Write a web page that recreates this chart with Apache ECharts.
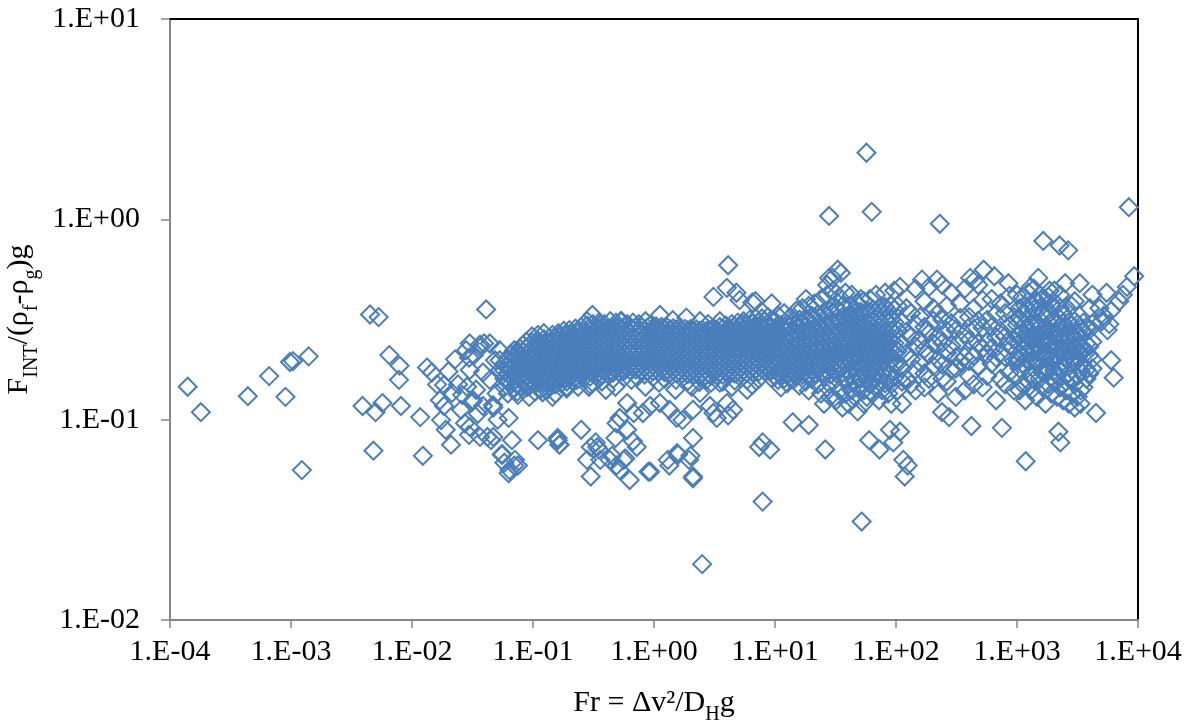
<!DOCTYPE html>
<html>
<head>
<meta charset="utf-8">
<script src="https://cdn.jsdelivr.net/npm/echarts@6/dist/echarts.min.js"></script>
<style>
html, body { margin: 0; padding: 0; background: #fff; }
#chart { width: 1195px; height: 726px; }
</style>
</head>
<body>
<div id="chart"></div>
<script>
// tick values (decades)
var frTicks = [1e-4, 1e-3, 1e-2, 1e-1, 1, 10, 100, 1000, 10000];
var forceTicks = [0.01, 0.1, 1, 10];

// scattered points left of the band [Fr, F/(..)g]
var sparseLeft = [
    [1.4e-4, 0.146], [1.8e-4, 0.109], [4.4e-4, 0.131], [6.6e-4, 0.165], [9.0e-4, 0.130],
    [9.8e-4, 0.194], [1.04e-3, 0.196], [1.4e-3, 0.207], [1.23e-3, 0.056], [3.9e-3, 0.117],
    [4.5e-3, 0.335], [5.3e-3, 0.325], [4.8e-3, 0.070], [5.0e-3, 0.109], [5.7e-3, 0.121],
    [6.5e-3, 0.210], [7.9e-3, 0.186], [7.8e-3, 0.158], [8.1e-3, 0.117], [0.0117, 0.103],
    [0.0123, 0.066], [0.0133, 0.182], [0.0146, 0.172], [0.0161, 0.150], [0.017, 0.125],
    [0.0184, 0.117], [0.020, 0.174], [0.0174, 0.0995], [0.019, 0.089], [0.021, 0.075],
    [0.0227, 0.200], [0.024, 0.150], [0.0254, 0.112], [0.0274, 0.096], [0.0296, 0.084],
    [0.0313, 0.123], [0.0338, 0.141], [0.0365, 0.237], [0.0394, 0.240], [0.041, 0.355],
    [0.042, 0.082], [0.045, 0.079], [0.0467, 0.118], [0.050, 0.135], [0.0386, 0.172],
    [0.044, 0.158], [0.0485, 0.198], [0.0534, 0.177], [0.035, 0.107], [0.030, 0.177],
    [0.026, 0.133], [0.0214, 0.136], [0.0184, 0.149], [0.028, 0.222], [0.0325, 0.210],
    [0.051, 0.100], [0.0285, 0.146], [0.032, 0.125], [0.0386, 0.117], [0.047, 0.115],
    [0.030, 0.092], [0.0365, 0.082], [0.047, 0.082], [0.0296, 0.204], [0.0365, 0.229],
    [0.053, 0.198], [0.030, 0.240], [0.044, 0.240], [0.053, 0.222]
];

// dense band, Fr < 10: [Fr, [F values]]
var bandLow = [
    [0.058, [0.16, 0.176, 0.19, 0.145]],
    [0.062, [0.17, 0.186, 0.155, 0.2, 0.135]],
    [0.066, [0.165, 0.18, 0.196, 0.212, 0.15]],
    [0.07, [0.172, 0.158, 0.188, 0.205, 0.143, 0.222]],
    [0.074, [0.168, 0.181, 0.196, 0.214, 0.152, 0.138]],
    [0.078, [0.175, 0.162, 0.19, 0.208, 0.226, 0.147]],
    [0.083, [0.17, 0.184, 0.2, 0.218, 0.157, 0.236, 0.142]],
    [0.088, [0.166, 0.178, 0.193, 0.21, 0.228, 0.152, 0.245]],
    [0.093, [0.173, 0.186, 0.2, 0.216, 0.234, 0.16, 0.147, 0.13]],
    [0.098, [0.168, 0.18, 0.195, 0.21, 0.225, 0.242, 0.155, 0.26]],
    [0.104, [0.175, 0.19, 0.204, 0.22, 0.236, 0.163, 0.15, 0.138]],
    [0.11, [0.17, 0.183, 0.198, 0.213, 0.23, 0.248, 0.158, 0.265]],
    [0.116, [0.177, 0.19, 0.205, 0.222, 0.24, 0.165, 0.153, 0.142]],
    [0.123, [0.172, 0.186, 0.2, 0.216, 0.233, 0.252, 0.16, 0.27]],
    [0.13, [0.178, 0.193, 0.208, 0.225, 0.243, 0.166, 0.155, 0.14]],
    [0.137, [0.174, 0.188, 0.202, 0.218, 0.236, 0.256, 0.162, 0.148]],
    [0.145, [0.18, 0.195, 0.21, 0.227, 0.245, 0.168, 0.265, 0.156]],
    [0.153, [0.176, 0.19, 0.205, 0.221, 0.239, 0.258, 0.164, 0.15, 0.135]],
    [0.162, [0.182, 0.197, 0.212, 0.23, 0.248, 0.17, 0.158, 0.27]],
    [0.171, [0.178, 0.192, 0.207, 0.224, 0.242, 0.262, 0.166, 0.152]],
    [0.18, [0.184, 0.199, 0.215, 0.232, 0.25, 0.172, 0.16, 0.278]],
    [0.19, [0.18, 0.194, 0.21, 0.226, 0.244, 0.265, 0.168, 0.155, 0.143]],
    [0.2, [0.186, 0.2, 0.217, 0.235, 0.254, 0.174, 0.162, 0.28]],
    [0.212, [0.182, 0.196, 0.212, 0.229, 0.247, 0.268, 0.17, 0.157]],
    [0.224, [0.188, 0.203, 0.22, 0.238, 0.257, 0.176, 0.164, 0.285]],
    [0.236, [0.184, 0.198, 0.214, 0.231, 0.25, 0.272, 0.172, 0.16, 0.146]],
    [0.25, [0.19, 0.205, 0.222, 0.24, 0.26, 0.178, 0.166, 0.29]],
    [0.264, [0.186, 0.2, 0.216, 0.234, 0.253, 0.275, 0.174, 0.162]],
    [0.28, [0.192, 0.207, 0.224, 0.242, 0.262, 0.18, 0.168, 0.295]],
    [0.296, [0.188, 0.202, 0.218, 0.236, 0.256, 0.278, 0.176, 0.164, 0.15]],
    [0.313, [0.194, 0.209, 0.226, 0.245, 0.265, 0.182, 0.17, 0.3]],
    [0.33, [0.19, 0.204, 0.22, 0.238, 0.258, 0.28, 0.178, 0.166]],
    [0.35, [0.196, 0.211, 0.228, 0.247, 0.268, 0.184, 0.172, 0.305]],
    [0.37, [0.192, 0.206, 0.222, 0.24, 0.26, 0.283, 0.18, 0.168, 0.155]],
    [0.39, [0.198, 0.213, 0.23, 0.249, 0.27, 0.186, 0.174, 0.3]],
    [0.41, [0.194, 0.208, 0.224, 0.242, 0.262, 0.285, 0.182, 0.17]],
    [0.435, [0.2, 0.215, 0.232, 0.251, 0.272, 0.188, 0.176, 0.31]],
    [0.46, [0.196, 0.21, 0.226, 0.244, 0.264, 0.287, 0.184, 0.172, 0.16]],
    [0.485, [0.202, 0.217, 0.234, 0.253, 0.274, 0.19, 0.178, 0.305]],
    [0.51, [0.198, 0.212, 0.228, 0.246, 0.266, 0.288, 0.186, 0.174]],
    [0.54, [0.204, 0.219, 0.236, 0.255, 0.276, 0.192, 0.18, 0.31]],
    [0.57, [0.2, 0.214, 0.23, 0.248, 0.268, 0.29, 0.188, 0.176, 0.163]],
    [0.6, [0.205, 0.22, 0.237, 0.256, 0.277, 0.193, 0.181, 0.3]],
    [0.635, [0.2, 0.215, 0.231, 0.249, 0.269, 0.29, 0.189, 0.177]],
    [0.67, [0.206, 0.221, 0.238, 0.257, 0.278, 0.194, 0.182, 0.305]],
    [0.71, [0.201, 0.216, 0.232, 0.25, 0.27, 0.29, 0.19, 0.178, 0.165]],
    [0.75, [0.206, 0.221, 0.238, 0.257, 0.278, 0.194, 0.182, 0.3]],
    [0.79, [0.2, 0.215, 0.231, 0.249, 0.268, 0.289, 0.189, 0.177]],
    [0.835, [0.205, 0.22, 0.236, 0.255, 0.275, 0.193, 0.181, 0.168]],
    [0.88, [0.2, 0.214, 0.23, 0.248, 0.267, 0.288, 0.188, 0.176]],
    [0.93, [0.204, 0.218, 0.234, 0.252, 0.272, 0.192, 0.18, 0.295]],
    [0.98, [0.199, 0.213, 0.229, 0.246, 0.265, 0.286, 0.187, 0.175, 0.163]],
    [1.04, [0.203, 0.217, 0.233, 0.25, 0.27, 0.191, 0.179, 0.292]],
    [1.1, [0.198, 0.212, 0.228, 0.245, 0.264, 0.285, 0.186, 0.174]],
    [1.16, [0.202, 0.216, 0.232, 0.249, 0.268, 0.19, 0.178, 0.29]],
    [1.22, [0.197, 0.211, 0.227, 0.244, 0.263, 0.284, 0.185, 0.173, 0.16]],
    [1.29, [0.201, 0.215, 0.231, 0.248, 0.267, 0.189, 0.177, 0.288]],
    [1.36, [0.196, 0.21, 0.226, 0.243, 0.262, 0.282, 0.184, 0.172]],
    [1.44, [0.2, 0.214, 0.23, 0.247, 0.266, 0.188, 0.176, 0.286]],
    [1.52, [0.195, 0.209, 0.225, 0.242, 0.261, 0.281, 0.183, 0.171, 0.158]],
    [1.6, [0.199, 0.213, 0.229, 0.246, 0.265, 0.187, 0.175, 0.285]],
    [1.7, [0.194, 0.208, 0.224, 0.241, 0.26, 0.28, 0.182, 0.17]],
    [1.8, [0.198, 0.212, 0.228, 0.245, 0.264, 0.186, 0.174, 0.284]],
    [1.9, [0.193, 0.207, 0.223, 0.24, 0.259, 0.279, 0.181, 0.169, 0.156]],
    [2.0, [0.197, 0.211, 0.227, 0.244, 0.263, 0.185, 0.173, 0.283]],
    [2.12, [0.192, 0.206, 0.222, 0.239, 0.258, 0.278, 0.18, 0.168]],
    [2.24, [0.196, 0.21, 0.226, 0.243, 0.262, 0.184, 0.172, 0.282]],
    [2.37, [0.191, 0.205, 0.221, 0.238, 0.257, 0.277, 0.179, 0.167, 0.154]],
    [2.5, [0.195, 0.209, 0.225, 0.242, 0.261, 0.183, 0.171, 0.28]],
    [2.65, [0.19, 0.204, 0.22, 0.237, 0.256, 0.276, 0.178, 0.166]],
    [2.8, [0.194, 0.208, 0.224, 0.241, 0.26, 0.182, 0.17, 0.28]],
    [2.96, [0.19, 0.204, 0.22, 0.237, 0.256, 0.277, 0.178, 0.166, 0.153]],
    [3.13, [0.195, 0.209, 0.225, 0.243, 0.263, 0.183, 0.171, 0.285]],
    [3.3, [0.191, 0.205, 0.221, 0.239, 0.259, 0.28, 0.179, 0.167]],
    [3.5, [0.196, 0.21, 0.226, 0.245, 0.266, 0.184, 0.172, 0.29]],
    [3.7, [0.192, 0.206, 0.222, 0.241, 0.262, 0.284, 0.18, 0.168, 0.155]],
    [3.92, [0.197, 0.211, 0.228, 0.247, 0.268, 0.185, 0.173, 0.295]],
    [4.15, [0.193, 0.207, 0.224, 0.243, 0.264, 0.288, 0.181, 0.169]],
    [4.4, [0.198, 0.213, 0.23, 0.25, 0.272, 0.186, 0.174, 0.3]],
    [4.65, [0.194, 0.208, 0.226, 0.246, 0.268, 0.292, 0.182, 0.17, 0.157]],
    [4.92, [0.2, 0.215, 0.233, 0.253, 0.276, 0.187, 0.175, 0.305]],
    [5.2, [0.195, 0.21, 0.228, 0.248, 0.27, 0.295, 0.183, 0.171]],
    [5.5, [0.201, 0.217, 0.236, 0.257, 0.28, 0.188, 0.176, 0.31]],
    [5.85, [0.196, 0.212, 0.23, 0.25, 0.273, 0.298, 0.184, 0.172, 0.158]],
    [6.2, [0.202, 0.219, 0.238, 0.26, 0.284, 0.19, 0.177, 0.315]],
    [6.55, [0.197, 0.214, 0.233, 0.254, 0.277, 0.302, 0.185, 0.173]],
    [6.95, [0.203, 0.22, 0.24, 0.262, 0.286, 0.19, 0.178, 0.32]],
    [7.35, [0.198, 0.215, 0.235, 0.256, 0.28, 0.306, 0.186, 0.174, 0.16]],
    [7.8, [0.204, 0.222, 0.242, 0.264, 0.289, 0.191, 0.179, 0.32]],
    [8.25, [0.199, 0.217, 0.237, 0.259, 0.283, 0.31, 0.187, 0.175]],
    [8.75, [0.205, 0.223, 0.244, 0.267, 0.292, 0.192, 0.18, 0.325]],
    [9.3, [0.2, 0.218, 0.239, 0.262, 0.287, 0.315, 0.188, 0.176, 0.162]]
];

// wider band, Fr >= 10
var bandHigh = [
    [10.0, [0.19, 0.205, 0.222, 0.24, 0.26, 0.285, 0.178, 0.165, 0.31]],
    [10.6, [0.185, 0.2, 0.216, 0.234, 0.255, 0.28, 0.172, 0.158, 0.33]],
    [11.2, [0.192, 0.208, 0.226, 0.246, 0.27, 0.296, 0.18, 0.168, 0.145]],
    [11.9, [0.187, 0.202, 0.219, 0.238, 0.26, 0.288, 0.174, 0.16, 0.34]],
    [12.6, [0.194, 0.21, 0.229, 0.25, 0.275, 0.302, 0.182, 0.17, 0.152]],
    [13.4, [0.189, 0.204, 0.222, 0.242, 0.265, 0.292, 0.176, 0.163, 0.325]],
    [14.2, [0.196, 0.213, 0.232, 0.254, 0.28, 0.31, 0.184, 0.172, 0.158]],
    [15.0, [0.19, 0.206, 0.225, 0.246, 0.27, 0.298, 0.178, 0.165, 0.35]],
    [15.9, [0.198, 0.215, 0.235, 0.258, 0.285, 0.316, 0.186, 0.174, 0.148]],
    [16.9, [0.192, 0.208, 0.227, 0.249, 0.274, 0.303, 0.18, 0.167, 0.36]],
    [17.9, [0.2, 0.218, 0.238, 0.262, 0.29, 0.322, 0.188, 0.176, 0.155]],
    [19.0, [0.194, 0.21, 0.23, 0.253, 0.279, 0.31, 0.182, 0.169, 0.14, 0.37]],
    [20.1, [0.202, 0.22, 0.241, 0.266, 0.295, 0.33, 0.19, 0.178, 0.16]],
    [21.3, [0.196, 0.213, 0.234, 0.258, 0.286, 0.318, 0.184, 0.17, 0.38]],
    [22.6, [0.204, 0.223, 0.245, 0.27, 0.3, 0.336, 0.192, 0.18, 0.15]],
    [24.0, [0.198, 0.216, 0.237, 0.262, 0.29, 0.325, 0.186, 0.172, 0.135, 0.4]],
    [25.4, [0.206, 0.226, 0.249, 0.275, 0.306, 0.343, 0.194, 0.165, 0.12]],
    [27.0, [0.2, 0.219, 0.241, 0.266, 0.296, 0.33, 0.188, 0.175, 0.42, 0.145]],
    [28.6, [0.208, 0.228, 0.252, 0.28, 0.312, 0.35, 0.196, 0.168, 0.13]],
    [30.3, [0.202, 0.222, 0.245, 0.272, 0.303, 0.34, 0.19, 0.178, 0.155, 0.44]],
    [32.1, [0.21, 0.231, 0.256, 0.285, 0.32, 0.36, 0.197, 0.17, 0.125]],
    [34.0, [0.204, 0.224, 0.248, 0.276, 0.31, 0.35, 0.192, 0.18, 0.14, 0.41]],
    [36.1, [0.212, 0.233, 0.259, 0.29, 0.326, 0.37, 0.198, 0.172, 0.115]],
    [38.2, [0.206, 0.227, 0.252, 0.282, 0.318, 0.36, 0.194, 0.16, 0.135, 0.43]],
    [40.5, [0.214, 0.236, 0.262, 0.294, 0.332, 0.2, 0.175, 0.15, 0.12]],
    [43.0, [0.208, 0.23, 0.256, 0.288, 0.325, 0.37, 0.196, 0.165, 0.14, 0.42]],
    [45.5, [0.215, 0.238, 0.266, 0.3, 0.34, 0.2, 0.18, 0.155, 0.13]],
    [48.2, [0.21, 0.232, 0.258, 0.29, 0.33, 0.38, 0.197, 0.168, 0.145, 0.11]],
    [51.1, [0.216, 0.24, 0.268, 0.302, 0.345, 0.2, 0.182, 0.16, 0.4]],
    [54.2, [0.21, 0.233, 0.26, 0.293, 0.335, 0.39, 0.196, 0.17, 0.14, 0.12]],
    [57.4, [0.218, 0.242, 0.27, 0.305, 0.35, 0.2, 0.185, 0.158, 0.13]],
    [60.8, [0.212, 0.235, 0.262, 0.296, 0.34, 0.4, 0.194, 0.172, 0.15]],
    [64.4, [0.22, 0.244, 0.273, 0.31, 0.355, 0.2, 0.18, 0.16, 0.135]],
    [68.3, [0.213, 0.236, 0.264, 0.298, 0.343, 0.195, 0.17, 0.145, 0.42]],
    [72.4, [0.22, 0.245, 0.275, 0.312, 0.36, 0.2, 0.182, 0.155, 0.125]],
    [76.7, [0.214, 0.238, 0.266, 0.3, 0.346, 0.193, 0.168, 0.14]],
    [81.3, [0.222, 0.247, 0.277, 0.315, 0.365, 0.2, 0.178, 0.152, 0.43]],
    [86.2, [0.215, 0.24, 0.268, 0.303, 0.35, 0.192, 0.165, 0.135]],
    [91.4, [0.222, 0.248, 0.279, 0.318, 0.37, 0.2, 0.176, 0.15, 0.12]],
    [96.9, [0.216, 0.241, 0.27, 0.306, 0.354, 0.19, 0.162, 0.44]],
    [103, [0.22, 0.28, 0.19, 0.14, 0.37]],
    [112, [0.24, 0.305, 0.18, 0.155, 0.12]],
    [122, [0.215, 0.275, 0.36, 0.16]],
    [133, [0.26, 0.34, 0.2, 0.15]],
    [145, [0.232, 0.3, 0.178, 0.14, 0.45]],
    [158, [0.25, 0.325, 0.192]],
    [172, [0.225, 0.29, 0.39, 0.17, 0.145]],
    [187, [0.27, 0.21, 0.16, 0.46]],
    [204, [0.24, 0.312, 0.36, 0.185]],
    [222, [0.26, 0.34, 0.2, 0.135]],
    [242, [0.242, 0.315, 0.188, 0.16, 0.47]],
    [263, [0.278, 0.37, 0.216, 0.155]],
    [287, [0.234, 0.303, 0.43, 0.178]],
    [312, [0.28, 0.205, 0.18, 0.13]],
    [340, [0.248, 0.322, 0.38, 0.194]],
    [370, [0.268, 0.45, 0.206, 0.14]],
    [403, [0.25, 0.325, 0.196, 0.165]],
    [439, [0.284, 0.36, 0.208, 0.15]],
    [478, [0.24, 0.312, 0.47, 0.186]],
    [520, [0.288, 0.395, 0.226, 0.145]],
    [567, [0.244, 0.315, 0.212, 0.165]],
    [617, [0.29, 0.4, 0.228, 0.19]],
    [672, [0.258, 0.338, 0.204, 0.125]],
    [732, [0.278, 0.38, 0.216, 0.16]],
    [797, [0.26, 0.34, 0.206, 0.15]],
    [868, [0.296, 0.415, 0.234, 0.172]],
    [945, [0.25, 0.325, 0.196, 0.14]],
    [1000, [0.22, 0.264, 0.298, 0.42, 0.2, 0.165]],
    [1050, [0.2, 0.24, 0.265, 0.32, 0.36, 0.18, 0.14]],
    [1110, [0.21, 0.25, 0.275, 0.34, 0.19, 0.15, 0.41]],
    [1170, [0.225, 0.245, 0.298, 0.37, 0.185, 0.125]],
    [1240, [0.215, 0.258, 0.283, 0.35, 0.195, 0.155, 0.43]],
    [1310, [0.228, 0.25, 0.302, 0.38, 0.168, 0.14]],
    [1380, [0.218, 0.26, 0.286, 0.355, 0.198, 0.158, 0.45]],
    [1460, [0.23, 0.252, 0.305, 0.39, 0.19, 0.13]],
    [1540, [0.22, 0.263, 0.29, 0.36, 0.2, 0.16, 0.42]],
    [1630, [0.212, 0.255, 0.28, 0.345, 0.4, 0.172, 0.145]],
    [1720, [0.243, 0.266, 0.325, 0.202, 0.182, 0.12]],
    [1820, [0.214, 0.257, 0.283, 0.35, 0.41, 0.174, 0.15]],
    [1920, [0.224, 0.268, 0.296, 0.37, 0.204, 0.164, 0.135]],
    [2030, [0.236, 0.26, 0.317, 0.196, 0.176, 0.155, 0.44]],
    [2150, [0.226, 0.271, 0.3, 0.375, 0.206, 0.166, 0.13]],
    [2270, [0.218, 0.262, 0.289, 0.36, 0.42, 0.178, 0.145]],
    [2400, [0.228, 0.25, 0.303, 0.338, 0.188, 0.125]],
    [2540, [0.22, 0.264, 0.292, 0.365, 0.2, 0.155, 0.14]],
    [2680, [0.23, 0.252, 0.306, 0.21, 0.17, 0.12]],
    [2830, [0.222, 0.267, 0.295, 0.37, 0.202, 0.16, 0.135]],
    [3000, [0.232, 0.255, 0.31, 0.192, 0.15, 0.115]],
    [3170, [0.224, 0.27, 0.3, 0.204, 0.165, 0.13]],
    [3350, [0.235, 0.284, 0.214, 0.175, 0.14, 0.12]],
    [3540, [0.228, 0.275, 0.305, 0.186, 0.145]],
    [3750, [0.24, 0.29, 0.216, 0.178, 0.16]],
    [3960, [0.232, 0.28, 0.21, 0.17]],
    [4200, [0.245, 0.3, 0.2, 0.18]]
];

// points below the band
var belowBand = [
    [0.063, 0.102], [0.056, 0.067], [0.063, 0.054], [0.07, 0.059], [0.11, 0.079],
    [0.16, 0.079], [0.165, 0.075], [0.25, 0.089], [0.28, 0.063], [0.34, 0.073],
    [0.35, 0.071], [0.30, 0.052], [0.43, 0.063], [0.52, 0.056], [0.63, 0.050],
    [0.58, 0.064], [0.48, 0.081], [0.67, 0.078], [0.72, 0.073], [0.60, 0.089],
    [0.90, 0.055], [1.34, 0.059], [1.58, 0.067], [1.95, 0.063], [2.1, 0.051],
    [2.1, 0.081], [2.5, 0.019], [3.1, 0.108], [4.1, 0.105], [7.9, 0.077],
    [9.1, 0.071], [7.9, 0.039], [14, 0.097], [19, 0.094], [26, 0.071],
    [52, 0.031], [60, 0.079], [73, 0.071], [89, 0.089], [95, 0.077],
    [108, 0.087], [115, 0.063], [125, 0.059], [118, 0.052], [420, 0.093],
    [240, 0.109], [275, 0.103], [1180, 0.062], [2200, 0.087], [2280, 0.077],
    [4500, 0.108], [750, 0.091], [0.29, 0.146], [0.30, 0.073], [0.33, 0.077],
    [0.36, 0.063], [0.45, 0.066], [0.49, 0.059], [0.56, 0.063], [0.93, 0.055],
    [0.68, 0.108], [0.60, 0.121], [0.52, 0.102], [0.49, 0.096], [0.81, 0.108],
    [0.93, 0.117], [1.12, 0.121], [1.34, 0.112], [1.54, 0.102], [1.72, 0.0995],
    [2.1, 0.112], [2.4, 0.136], [2.9, 0.117], [3.3, 0.102], [4.0, 0.121],
    [4.5, 0.112], [5.9, 0.141], [1.3, 0.063], [1.55, 0.068], [2.0, 0.066],
    [2.1, 0.052], [7.4, 0.073], [0.064, 0.177], [0.09, 0.146], [0.12, 0.137],
    [0.145, 0.130], [0.19, 0.146], [0.23, 0.158], [0.31, 0.153], [0.40, 0.141],
    [0.48, 0.146], [0.65, 0.158], [0.85, 0.146], [1.1, 0.153], [1.5, 0.141],
    [2.05, 0.146], [2.7, 0.158], [3.5, 0.153], [4.4, 0.146], [6.5, 0.149],
    [0.075, 0.133], [0.062, 0.158], [0.055, 0.067], [0.058, 0.061], [0.071, 0.063],
    [0.067, 0.079], [0.064, 0.056], [0.075, 0.059], [0.16, 0.081], [0.166, 0.075]
];

// points above the band
var aboveBand = [
    [57, 2.15], [28, 1.04], [63, 1.09], [230, 0.95], [8400, 1.15],
    [1650, 0.78], [2250, 0.74], [2650, 0.70], [4.1, 0.59], [9300, 0.52],
    [28, 0.51], [33, 0.56], [30, 0.51], [27, 0.47], [35, 0.54],
    [530, 0.56], [650, 0.52], [850, 0.48], [410, 0.51], [450, 0.50],
    [218, 0.50], [164, 0.50], [108, 0.46], [1500, 0.51], [1300, 0.46],
    [1860, 0.44], [2500, 0.48], [3300, 0.48], [4200, 0.42], [7000, 0.39],
    [8100, 0.46], [3000, 0.39], [4000, 0.36], [0.31, 0.333], [0.28, 0.31],
    [0.36, 0.30], [0.53, 0.31], [0.85, 0.31], [1.12, 0.333], [1.43, 0.314],
    [1.85, 0.323], [3.1, 0.41], [4.0, 0.455], [4.8, 0.43], [5.1, 0.395],
    [6.5, 0.385], [2.4, 0.31], [2.8, 0.30], [3.5, 0.31], [4.0, 0.28],
    [5.4, 0.30], [6.9, 0.39], [9.4, 0.38], [18, 0.40]
];

// points at the right end
var rightEnd = [
    [5000, 0.31], [5500, 0.43], [5600, 0.28], [6000, 0.198], [6300, 0.162],
    [4800, 0.36], [5200, 0.33], [6000, 0.35], [7500, 0.42], [5800, 0.30]
];

var points = sparseLeft.concat(belowBand, aboveBand, rightEnd);
bandLow.concat(bandHigh).forEach(function (col) {
    col[1].forEach(function (f) {
        points.push([col[0], f]);
    });
});

function expLabel (v) {
    var e = Math.round(Math.log10(v));
    var a = Math.abs(e);
    return '1.E' + (e < 0 ? '-' : '+') + (a < 10 ? '0' : '') + a;
}

var serif = 'Liberation Serif';
var axisGray = '#868686';
// main text sits at the top of the line, subscripts at the bottom
var nameRich = {
    n: { fontFamily: serif, fontSize: 30, color: '#000', verticalAlign: 'top' },
    s: { fontFamily: serif, fontSize: 20, color: '#000', lineHeight: 37, verticalAlign: 'bottom' }
};

var chartobj = echarts.init(document.getElementById('chart'));
var option = {
    animation: false,
    backgroundColor: '#fff',
    grid: {
        left: 170, top: 19, width: 968, height: 601,
        containLabel: false, outerBoundsMode: 'none'
    },
    xAxis: [
        {
            type: 'log', logBase: 10,
            min: frTicks[0], max: frTicks[frTicks.length - 1], interval: 1,
            name: '{n|Fr = Δv²/D}{s|H}{n|g}',
            nameLocation: 'middle', nameGap: 68,
            nameTextStyle: { fontFamily: serif, fontSize: 30, color: '#000', rich: nameRich },
            axisLine: { show: true, onZero: false, lineStyle: { color: axisGray, width: 2 } },
            axisTick: { show: true, inside: false, length: 8, lineStyle: { color: axisGray, width: 1.5 } },
            minorTick: { show: false },
            axisLabel: {
                fontFamily: serif, fontSize: 30, color: '#000', margin: 17,
                showMinLabel: true, showMaxLabel: true,
                formatter: expLabel
            },
            splitLine: { show: false }
        },
        {
            type: 'log', logBase: 10, position: 'top',
            min: frTicks[0], max: frTicks[frTicks.length - 1],
            axisLine: { show: true, onZero: false, lineStyle: { color: '#000', width: 2 } },
            axisTick: { show: false }, axisLabel: { show: false }, splitLine: { show: false }
        }
    ],
    yAxis: [
        {
            type: 'log', logBase: 10,
            min: forceTicks[0], max: forceTicks[forceTicks.length - 1], interval: 1,
            name: '{n|F}{s|INT}{n|/(ρ}{s|f}{n|-ρ}{s|g}{n|)g}',
            nameLocation: 'middle', nameRotate: 90, nameGap: 126,
            nameTextStyle: { fontFamily: serif, fontSize: 30, color: '#000', rich: nameRich },
            axisLine: { show: true, onZero: false, lineStyle: { color: axisGray, width: 2 } },
            axisTick: { show: true, inside: false, length: 9, lineStyle: { color: axisGray, width: 1.5 } },
            minorTick: { show: false },
            axisLabel: {
                fontFamily: serif, fontSize: 30, color: '#000', margin: 30,
                showMinLabel: true, showMaxLabel: true,
                formatter: expLabel
            },
            splitLine: { show: false }
        },
        {
            type: 'log', logBase: 10, position: 'right',
            min: forceTicks[0], max: forceTicks[forceTicks.length - 1],
            axisLine: { show: true, onZero: false, lineStyle: { color: '#000', width: 2 } },
            axisTick: { show: false }, axisLabel: { show: false }, splitLine: { show: false }
        }
    ],
    series: [
        {
            type: 'scatter',
            xAxisIndex: 0, yAxisIndex: 0,
            symbol: 'diamond',
            symbolSize: 18,
            large: false,
            progressive: 0,
            silent: true,
            itemStyle: { color: 'rgba(255,255,255,0)', borderColor: '#4a7ebb', borderWidth: 2, opacity: 1 },
            emphasis: { disabled: true },
            data: points
        }
    ]
};
chartobj.setOption(option);
</script>
</body>
</html>
